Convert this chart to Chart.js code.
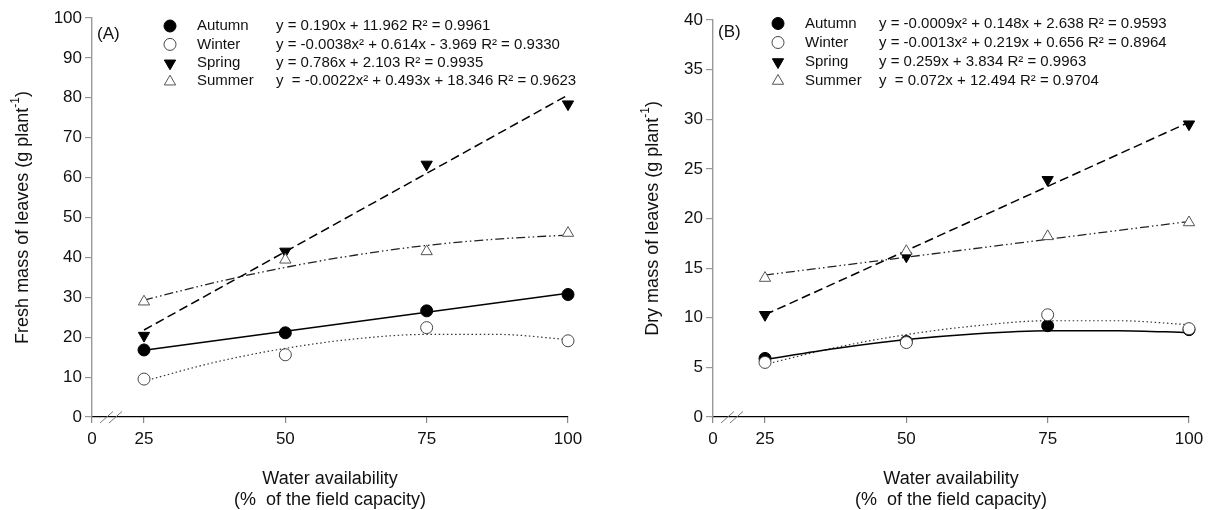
<!DOCTYPE html>
<html><head><meta charset="utf-8">
<script src="https://cdn.jsdelivr.net/npm/chart.js@4"></script>
<style>
html,body{margin:0;padding:0;background:#fff;}
#wrap{position:relative;width:1211px;height:510px;overflow:hidden;}
.c{position:absolute;top:0;height:510px;}
</style></head>
<body><div id="wrap">
<div class="c" style="left:0;width:605px"><canvas id="ca"></canvas></div>
<div class="c" style="left:605px;width:606px"><canvas id="cb"></canvas></div>
</div>
<script>
// ---------- data ----------
const waterLevels = [25, 50, 75, 100];
const xBreakValue = 15.8;               // axis start, labelled "0" (broken axis)
const xTickValues = [xBreakValue, 25, 50, 75, 100];
const xTickLabels = ['0', '25', '50', '75', '100'];
const seasons = ['Autumn', 'Winter', 'Spring', 'Summer'];
const fitXCurve = [25, 37.5, 50, 62.5, 75, 87.5, 100];
const fitXLine = [25, 100];

// Panel A: fresh mass of leaves
const freshAutumn = [16.8, 21.1, 26.6, 30.7];
const freshWinter = [9.5, 15.6, 22.4, 19.1];
const freshSpring = [20.4, 41.5, 63.3, 78.4];
const freshSummer = [28.9, 39.4, 41.5, 46.1];
const freshAutumnFit = [16.7, 31.0];
const freshWinterFit = [9.0, 13.7, 17.2, 19.6, 20.7, 20.7, 19.4];
const freshSpringFit = [21.8, 80.7];
const freshSummerFit = [29.3, 33.7, 37.5, 40.6, 43.0, 44.6, 45.6];
const freshEquations = [
  'y = 0.190x + 11.962 R\u00B2 = 0.9961',
  'y = -0.0038x\u00B2 + 0.614x - 3.969 R\u00B2 = 0.9330',
  'y = 0.786x + 2.103 R\u00B2 = 0.9935',
  'y  = -0.0022x\u00B2 + 0.493x + 18.346 R\u00B2 = 0.9623'
];
const freshYTicks = {min: 0, max: 100, step: 10};

// Panel B: dry mass of leaves
const dryAutumn = [5.9, 7.6, 9.2, 8.8];
const dryWinter = [5.5, 7.5, 10.3, 8.9];
const drySpring = [10.3, 16.2, 23.9, 29.5];
const drySummer = [14.0, 16.7, 18.2, 19.6];
const dryAutumnFit = [5.8, 6.9, 7.8, 8.4, 8.7, 8.7, 8.5];
const dryWinterFit = [5.3, 7.0, 8.3, 9.2, 9.7, 9.7, 9.3];
const drySpringFit = [10.3, 29.7];
const drySummerFit = [14.3, 19.7];
const dryEquations = [
  'y = -0.0009x\u00B2 + 0.148x + 2.638 R\u00B2 = 0.9593',
  'y = -0.0013x\u00B2 + 0.219x + 0.656 R\u00B2 = 0.8964',
  'y = 0.259x + 3.834 R\u00B2 = 0.9963',
  'y  = 0.072x + 12.494 R\u00B2 = 0.9704'
];
const dryYTicks = {min: 0, max: 40, step: 5};

// ---------- styles ----------
const FONT = '"Liberation Sans", Arial, Helvetica, sans-serif';
const markerStyles = [
  {pointStyle: 'circle', radius: 6, rotation: 0, fill: '#000', stroke: '#000'},
  {pointStyle: 'circle', radius: 6, rotation: 0, fill: '#fff', stroke: '#444'},
  {pointStyle: 'triangle', radius: 6.5, rotation: 180, fill: '#000', stroke: '#000'},
  {pointStyle: 'triangle', radius: 6.5, rotation: 0, fill: '#fff', stroke: '#555'}
];
const lineStyles = [
  {color: '#000', dash: [], width: 1.5},
  {color: '#333', dash: [1.5, 2.6], width: 1.2},
  {color: '#000', dash: [9, 4.5], width: 1.5},
  {color: '#222', dash: [9, 3, 1.5, 3, 1.5, 3], width: 1.3}
];

function pts(xs, ys) { return xs.map((x, i) => ({x: x, y: ys[i]})); }

function drawMarker(ctx, st, x, y) {
  ctx.save();
  ctx.fillStyle = st.fill; ctx.strokeStyle = st.stroke; ctx.lineWidth = 1;
  ctx.beginPath();
  if (st.pointStyle === 'circle') {
    ctx.arc(x, y, st.radius, 0, Math.PI * 2);
  } else {
    let rad = st.rotation * Math.PI / 180;
    const r = st.radius;
    for (let k = 0; k < 3; k++) {
      const px = x + Math.sin(rad) * r, py = y - Math.cos(rad) * r;
      if (k === 0) ctx.moveTo(px, py); else ctx.lineTo(px, py);
      rad += 2 * Math.PI / 3;
    }
    ctx.closePath();
  }
  ctx.fill(); ctx.stroke();
  ctx.restore();
}

function makeChart(id, cfg) {
  const markerSets = cfg.values.map((v, i) => ({
    label: seasons[i], data: pts(waterLevels, v), showLine: false,
    pointStyle: markerStyles[i].pointStyle, pointRadius: markerStyles[i].radius,
    pointRotation: markerStyles[i].rotation,
    pointBackgroundColor: markerStyles[i].fill, pointBorderColor: markerStyles[i].stroke,
    pointBorderWidth: 1, order: 4 - i, clip: false
  }));
  const fitSets = cfg.fits.map((f, i) => ({
    label: seasons[i] + ' fit', data: pts(f.length === 2 ? fitXLine : fitXCurve, f),
    borderColor: lineStyles[i].color, borderDash: lineStyles[i].dash,
    borderWidth: lineStyles[i].width, pointRadius: 0, fill: false,
    cubicInterpolationMode: 'monotone', order: 10 + i, clip: false
  }));

  const decor = {
    id: 'decor' + id,
    afterDraw(chart) {
      const ctx = chart.ctx, a = chart.chartArea, xs = chart.scales.x;
      ctx.save();
      // axis break marks
      const p25 = xs.getPixelForValue(25);
      const cx = a.left + (p25 - a.left) * 0.365;
      ctx.strokeStyle = '#777'; ctx.lineWidth = 1;
      [-4.5, 4.5].forEach(d => {
        ctx.beginPath();
        ctx.moveTo(cx + d - 6.5, a.bottom + 6);
        ctx.lineTo(cx + d + 6.5, a.bottom - 5.5);
        ctx.stroke();
      });
      // panel letter
      ctx.fillStyle = '#111';
      ctx.font = '17px ' + FONT;
      ctx.textBaseline = 'middle'; ctx.textAlign = 'left';
      ctx.fillText(cfg.letter, a.left + cfg.letterDx, cfg.letterY);
      // legend
      ctx.font = '15px ' + FONT;
      for (let i = 0; i < 4; i++) {
        const y = cfg.legY + i * cfg.legStep;
        drawMarker(ctx, markerStyles[i], a.left + cfg.legMarkDx, y + (i >= 2 ? 0.5 : 0));
        ctx.fillStyle = '#111';
        ctx.fillText(seasons[i], a.left + cfg.legLabelDx, y);
        ctx.fillText(cfg.equations[i], a.left + cfg.legEqDx, y);
      }
      // x title
      ctx.textAlign = 'center';
      ctx.font = '18px ' + FONT;
      const mx = (a.left + a.right) / 2;
      ctx.fillText('Water availability', mx, 479);
      ctx.fillText('(%  of the field capacity)', mx, 500);
      // y title with superscript
      ctx.translate(cfg.yTitleX, (a.top + a.bottom) / 2);
      ctx.rotate(-Math.PI / 2);
      const main = cfg.yTitle + ' (g plant', sup = '-1', tail = ')';
      ctx.font = '18px ' + FONT;
      const w1 = ctx.measureText(main).width, w3 = ctx.measureText(tail).width;
      ctx.font = '12px ' + FONT;
      const w2 = ctx.measureText(sup).width;
      const total = w1 + w2 + w3;
      ctx.textAlign = 'left';
      let x0 = -total / 2;
      ctx.font = '18px ' + FONT;
      ctx.fillText(main, x0, 0);
      ctx.font = '12px ' + FONT;
      ctx.fillText(sup, x0 + w1, -7);
      ctx.font = '18px ' + FONT;
      ctx.fillText(tail, x0 + w1 + w2, 0);
      ctx.restore();
    }
  };

  return new Chart(document.getElementById(id), {
    type: 'line',
    data: {datasets: markerSets.concat(fitSets)},
    options: {
      responsive: true, maintainAspectRatio: false, animation: false,
      layout: {padding: {left: 0, right: cfg.padRight, top: cfg.padTop, bottom: 0}},
      plugins: {legend: {display: false}, tooltip: {enabled: false}},
      scales: {
        x: {
          type: 'linear', min: xBreakValue, max: 100,
          afterBuildTicks: s => { s.ticks = xTickValues.map(v => ({value: v})); },
          afterFit: s => { s.height = 93; },
          ticks: {callback: (v, i) => xTickLabels[i], autoSkip: false, maxRotation: 0,
                  font: {family: FONT, size: 17}, color: '#111', padding: 6},
          grid: {drawOnChartArea: false, drawTicks: true, tickLength: 6, color: '#888', lineWidth: 1.2},
          border: {color: '#000', width: 1.2}
        },
        y: {
          min: cfg.yTicks.min, max: cfg.yTicks.max,
          afterFit: s => { s.width = cfg.left; },
          ticks: {stepSize: cfg.yTicks.step, font: {family: FONT, size: 17}, color: '#111', padding: 3},
          grid: {drawOnChartArea: false, drawTicks: true, tickLength: 7, color: '#999', lineWidth: 1.2},
          border: {color: '#999', width: 1.4}
        }
      }
    },
    plugins: [decor]
  });
}

makeChart('ca', {
  values: [freshAutumn, freshWinter, freshSpring, freshSummer],
  fits: [freshAutumnFit, freshWinterFit, freshSpringFit, freshSummerFit],
  equations: freshEquations, yTicks: freshYTicks,
  left: 92, padRight: 37, padTop: 18,
  letter: '(A)', letterDx: 5, letterY: 34,
  legY: 26, legStep: 18.4, legMarkDx: 78, legLabelDx: 105, legEqDx: 184,
  yTitle: 'Fresh mass of leaves', yTitleX: 23
});
makeChart('cb', {
  values: [dryAutumn, dryWinter, drySpring, drySummer],
  fits: [dryAutumnFit, dryWinterFit, drySpringFit, drySummerFit],
  equations: dryEquations, yTicks: dryYTicks,
  left: 108, padRight: 22, padTop: 20,
  letter: '(B)', letterDx: 5, letterY: 32,
  legY: 23.5, legStep: 19, legMarkDx: 65, legLabelDx: 92, legEqDx: 166,
  yTitle: 'Dry mass of leaves', yTitleX: 48
});
</script>
</body></html>
